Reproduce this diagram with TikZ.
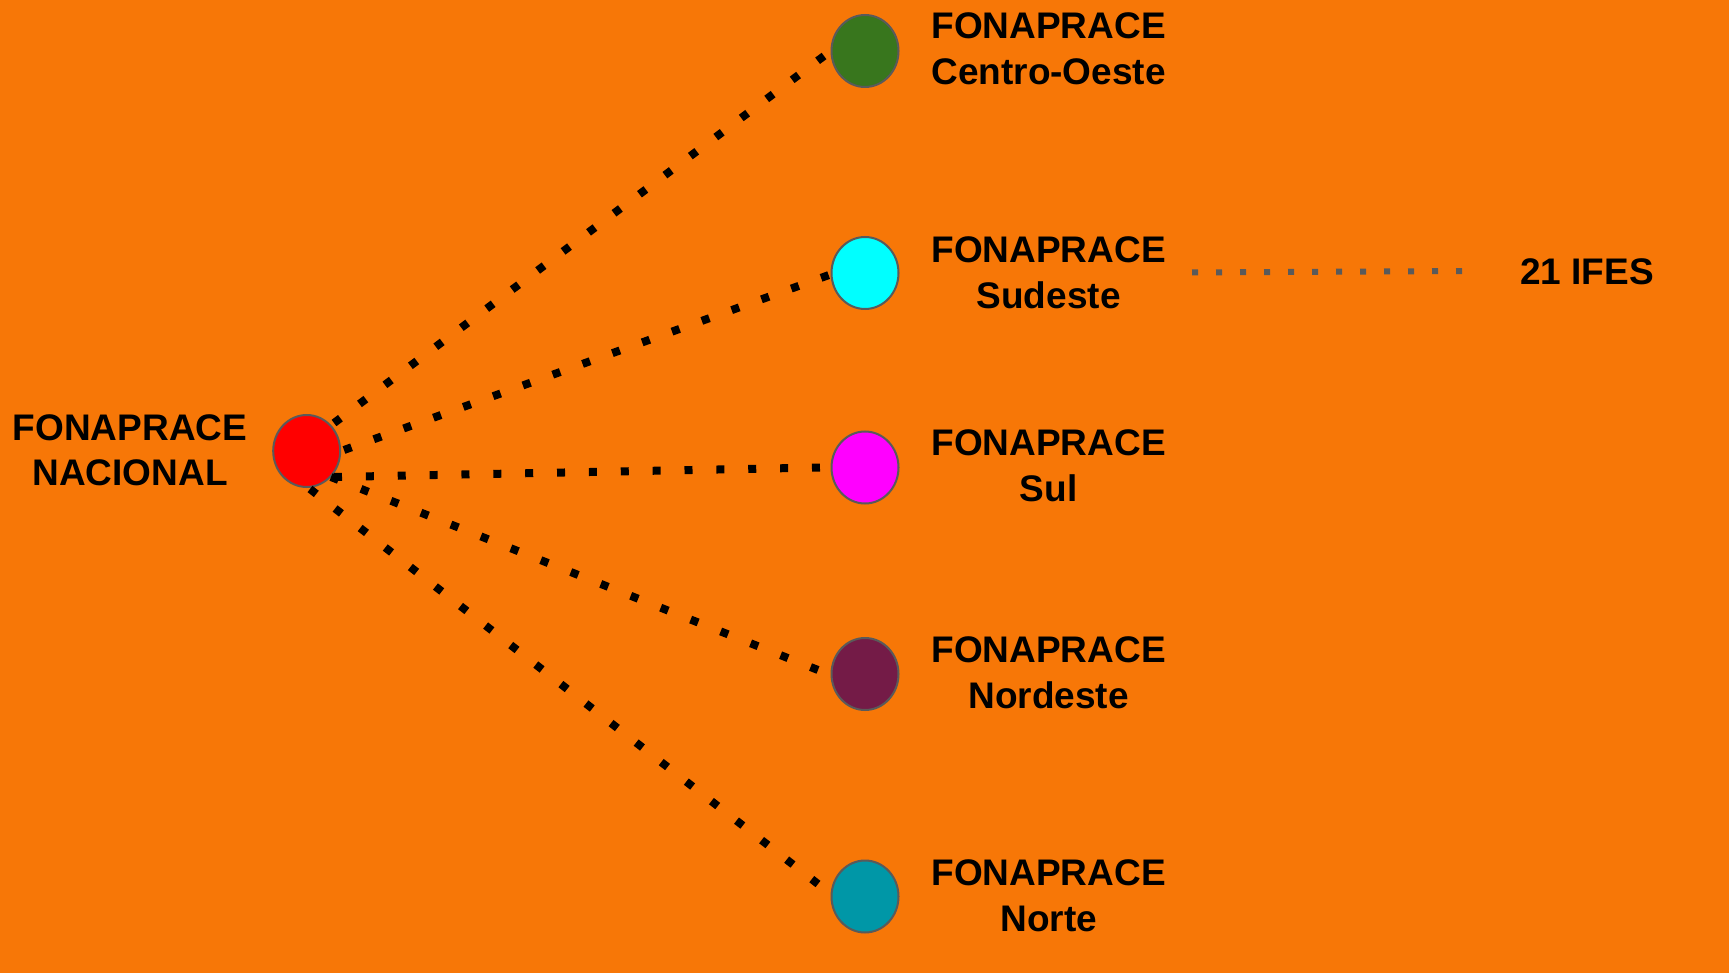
\documentclass[tikz,border=0pt]{standalone}
\usepackage{fontspec}
\setmainfont{Liberation Sans}
\usetikzlibrary{shapes.geometric}
\definecolor{bgorange}{RGB}{247,119,7}
\definecolor{rimgray}{RGB}{90,90,90}
\definecolor{cogreen}{RGB}{56,118,29}
\definecolor{secyan}{RGB}{0,255,255}
\definecolor{sulmag}{RGB}{255,0,255}
\definecolor{nepurple}{RGB}{116,27,71}
\definecolor{noteal}{RGB}{0,151,167}
\definecolor{natred}{RGB}{255,0,0}
\tikzset{
  dotball/.style={ellipse, draw=rimgray, line width=2pt, minimum width=67pt, minimum height=72pt, inner sep=0pt},
  lbl/.style={inner sep=0pt, align=center, font=\fontsize{37}{45.5}\selectfont\bfseries},
  blackdots/.style={line width=8pt, dash pattern=on 8pt off #1, black},
  blackdots/.default=24pt,
  graydots/.style={line width=6pt, dash pattern=on 6pt off 18pt, rimgray}
}
\begin{document}
\begin{tikzpicture}[x=1pt,y=-1pt]
\fill[bgorange] (0,0) rectangle (1729,973);
\useasboundingbox (0,0) rectangle (1729,973);

\node[dotball, fill=natred] (nac) at (306.7,451) {};
\node[dotball, fill=cogreen] (co) at (865,51) {};
\node[dotball, fill=secyan] (se) at (865,273) {};
\node[dotball, fill=sulmag] (su) at (865,467.5) {};
\node[dotball, fill=nepurple] (ne) at (865,674) {};
\node[dotball, fill=noteal] (no) at (865,896.5) {};

\node[lbl] (tnac) at (130,450.5) {FONAPRACE\\NACIONAL};
\node[lbl] (tco) at (1048.6,49) {FONAPRACE\\Centro-Oeste};
\node[lbl] (tse) at (1048.6,273) {FONAPRACE\\Sudeste};
\node[lbl] (tsu) at (1048.6,466) {FONAPRACE\\Sul};
\node[lbl] (tne) at (1048.6,673) {FONAPRACE\\Nordeste};
\node[lbl] (tno) at (1048.6,896) {FONAPRACE\\Norte};
\node[lbl] (ifes) at (1587,271.7) {21 IFES};

\coordinate (s1) at (334,423);
\coordinate (s2) at (344,450);
\coordinate (s3) at (334,477);
\coordinate (s4) at (331,477);
\coordinate (s5) at (310,489);
\coordinate (e1) at (824,56);
\coordinate (e2) at (829,275);
\coordinate (e3) at (820,467.5);
\coordinate (e4) at (818,670);
\coordinate (e5) at (818,884);

\draw[blackdots=23.8pt] (s1) -- (e1);
\draw[blackdots=23.7pt] (s2) -- (e2);
\draw[blackdots=23.87pt] (s3) -- (e3);
\draw[blackdots=24.24pt] (s4) -- (e4);
\draw[blackdots=23.78pt] (s5) -- (e5);

\coordinate (g1) at (1192,272.5);
\coordinate (g2) at (1463,271);
\draw[graydots] (g1) -- (g2);
\end{tikzpicture}
\end{document}
